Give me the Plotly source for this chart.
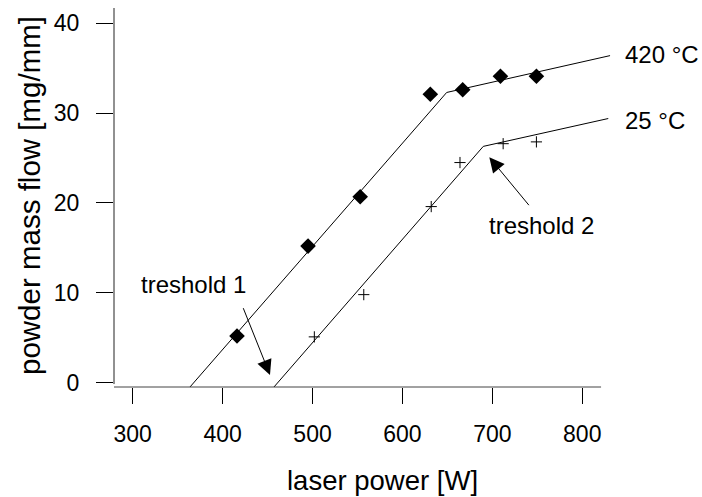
import plotly.graph_objects as go

# measured data
power_420 = [416, 495, 553, 631, 667, 709, 749]
flow_420 = [5.2, 15.2, 20.7, 32.1, 32.6, 34.1, 34.1]
power_25 = [502, 557, 632, 664, 712, 749]
flow_25 = [5.1, 9.8, 19.6, 24.5, 26.6, 26.8]

# fitted piecewise lines
fit420_x = [363.7, 649.2, 830.9]
fit420_y = [-0.48, 32.3, 36.4]
fit25_x = [457.1, 689.9, 828.9]
fit25_y = [-0.48, 26.3, 29.4]

x_ticks = [300, 400, 500, 600, 700, 800]
y_ticks = [0, 10, 20, 30, 40]

FONT = "Liberation Sans, Arial, Helvetica, sans-serif"
INK = "#000000"

fig = go.Figure()
fig.add_trace(go.Scatter(x=fit420_x, y=fit420_y, mode="lines",
                         line=dict(color=INK, width=1), showlegend=False, hoverinfo="skip"))
fig.add_trace(go.Scatter(x=fit25_x, y=fit25_y, mode="lines",
                         line=dict(color=INK, width=1), showlegend=False, hoverinfo="skip"))
fig.add_trace(go.Scatter(x=power_420, y=flow_420, mode="markers",
                         marker=dict(symbol="diamond", size=12, color=INK),
                         showlegend=False, name="420 °C"))
fig.add_trace(go.Scatter(x=power_25, y=flow_25, mode="markers",
                         marker=dict(symbol="cross-thin", size=8, color=INK,
                                     line=dict(color=INK, width=1)),
                         showlegend=False, name="25 °C"))

x_range = [279.2, 864.2]
y_range = [-0.479, 41.70]

# axis lines (detached, as in the original)
fig.add_shape(type="line", xref="x", yref="paper", x0=279.2, x1=820.9, y0=0, y1=0,
              line=dict(color="#444", width=1))
fig.add_shape(type="line", xref="paper", yref="y", x0=0, x1=0, y0=-0.15, y1=41.70,
              line=dict(color="#222", width=1))

ann = []
# text labels
ann.append(dict(text="420 °C", xref="paper", yref="paper", x=0.9677, y=0.8786,
                xanchor="left", yanchor="middle", showarrow=False, font=dict(size=24)))
ann.append(dict(text="25 °C", xref="paper", yref="paper", x=0.967, y=0.7026,
                xanchor="left", yanchor="middle", showarrow=False, font=dict(size=24)))
ann.append(dict(text="treshold 1", xref="x", yref="y", x=367.1, y=10.98,
                xanchor="center", yanchor="middle", showarrow=False, font=dict(size=24)))
ann.append(dict(text="treshold 2", xref="x", yref="y", x=755.2, y=17.44,
                xanchor="center", yanchor="middle", showarrow=False, font=dict(size=24)))
# arrows
ann.append(dict(text="", xref="x", yref="y", x=452.7, y=0.86, axref="x", ayref="y",
                ax=422.3, ay=8.46, showarrow=True, arrowhead=2, arrowsize=3,
                arrowwidth=1, arrowcolor=INK, standoff=0, startstandoff=0))
ann.append(dict(text="", xref="x", yref="y", x=696.6, y=25.09, axref="x", ayref="y",
                ax=742.0, ay=19.59, showarrow=True, arrowhead=2, arrowsize=3,
                arrowwidth=1, arrowcolor=INK, standoff=0, startstandoff=0))
# axis titles
ann.append(dict(text="laser power [W]", xref="paper", yref="paper", x=0.5114, y=-0.2454,
                xanchor="center", yanchor="middle", showarrow=False, font=dict(size=27.5)))
ann.append(dict(text="powder mass flow [mg/mm]", xref="paper", yref="paper", x=-0.1597,
                y=0.5066, xanchor="center", yanchor="middle", textangle=-90,
                showarrow=False, font=dict(size=29.5)))

fig.update_layout(
    width=702, height=497,
    margin=dict(l=114, r=62, t=8, b=110, pad=0),
    paper_bgcolor="white", plot_bgcolor="white",
    font=dict(family=FONT, color=INK, size=24),
    annotations=ann,
    xaxis=dict(range=x_range, tickvals=x_ticks, ticktext=[str(v) for v in x_ticks],
               showgrid=False, zeroline=False, showline=False,
               ticks="outside", ticklen=16, tickwidth=1, tickcolor=INK,
               tickfont=dict(size=23), ticklabelstandoff=10),
    yaxis=dict(range=y_range, tickvals=y_ticks, ticktext=[str(v) for v in y_ticks],
               showgrid=False, zeroline=False, showline=False,
               ticks="outside", ticklen=17, tickwidth=1, tickcolor=INK,
               tickfont=dict(size=23), ticklabelstandoff=12),
)

fig.write_html("out.html")
